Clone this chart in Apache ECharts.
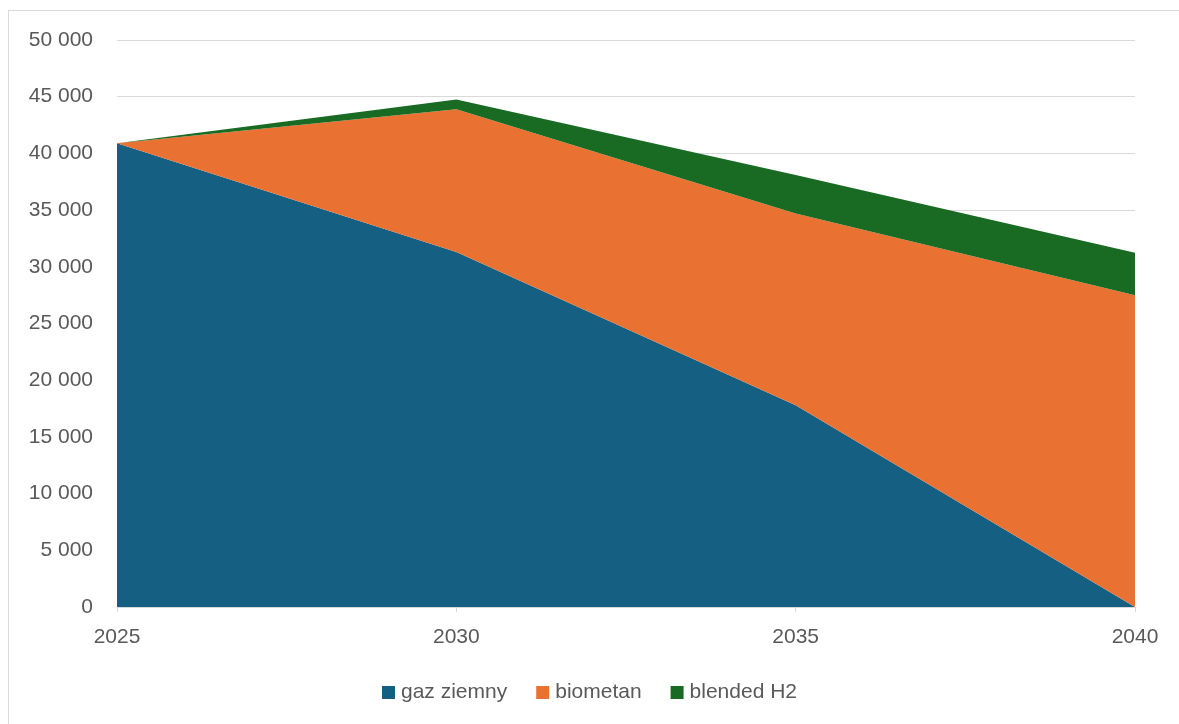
<!DOCTYPE html>
<html>
<head>
<meta charset="utf-8">
<script src="https://cdn.jsdelivr.net/npm/echarts@6/dist/echarts.min.js"></script>
<style>
  html, body { margin: 0; padding: 0; background: #fff; }
  #frame { position: absolute; left: 8px; top: 10px; width: 1180px; height: 720px; border: 1px solid #d9d9d9; box-sizing: border-box; }
  #chart { position: absolute; left: 0; top: 0; width: 1179px; height: 724px; }
</style>
</head>
<body>
<div id="frame"></div>
<div id="chart"></div>
<script>
const years = ['2025', '2030', '2035', '2040'];
const gazZiemny = [40900, 31300, 17800, 0];
const biometan = [0, 12600, 16900, 27500];
const blendedH2 = [0, 850, 3400, 3750];

const fontFamily = '"Liberation Sans", Arial, sans-serif';
const textColor = '#595959';

// thousands separated by a space, e.g. 45 000
function fmt(v) {
  return String(v).replace(/\B(?=(\d{3})+(?!\d))/g, ' ');
}

function areaSeries(name, data, color) {
  return {
    name: name,
    type: 'line',
    stack: 'total',
    data: data,
    symbol: 'none',
    lineStyle: { width: 0 },
    itemStyle: { color: color },
    areaStyle: { color: color, opacity: 1 }
  };
}

const chart = echarts.init(document.getElementById('chart'), null, { renderer: 'canvas' });
chart.setOption({
  animation: false,
  grid: { left: 117, right: 44, top: 40, bottom: 117, containLabel: false },
  xAxis: {
    type: 'category',
    data: years,
    boundaryGap: false,
    axisLine: { lineStyle: { color: '#d9d9d9', width: 1 } },
    axisTick: { show: true, length: 5, lineStyle: { color: '#d9d9d9' } },
    axisLabel: { color: textColor, fontSize: 21, fontFamily: fontFamily, margin: 20 },
    splitLine: { show: false }
  },
  yAxis: {
    type: 'value',
    min: 0,
    max: 50000,
    interval: 5000,
    axisLine: { show: false },
    axisTick: { show: false },
    axisLabel: { color: textColor, fontSize: 21, fontFamily: fontFamily, margin: 24, formatter: fmt },
    splitLine: { lineStyle: { color: '#d9d9d9', width: 1 } }
  },
  legend: {
    top: 677,
    left: 'center',
    icon: 'rect',
    itemWidth: 13,
    itemHeight: 13,
    itemGap: 29,
    textStyle: { color: textColor, fontSize: 21, fontFamily: fontFamily, padding: [0, 0, 0, 1] },
    data: ['gaz ziemny', 'biometan', 'blended H2']
  },
  series: [
    areaSeries('gaz ziemny', gazZiemny, '#156082'),
    areaSeries('biometan', biometan, '#E97132'),
    areaSeries('blended H2', blendedH2, '#196B24')
  ]
});
</script>
</body>
</html>
